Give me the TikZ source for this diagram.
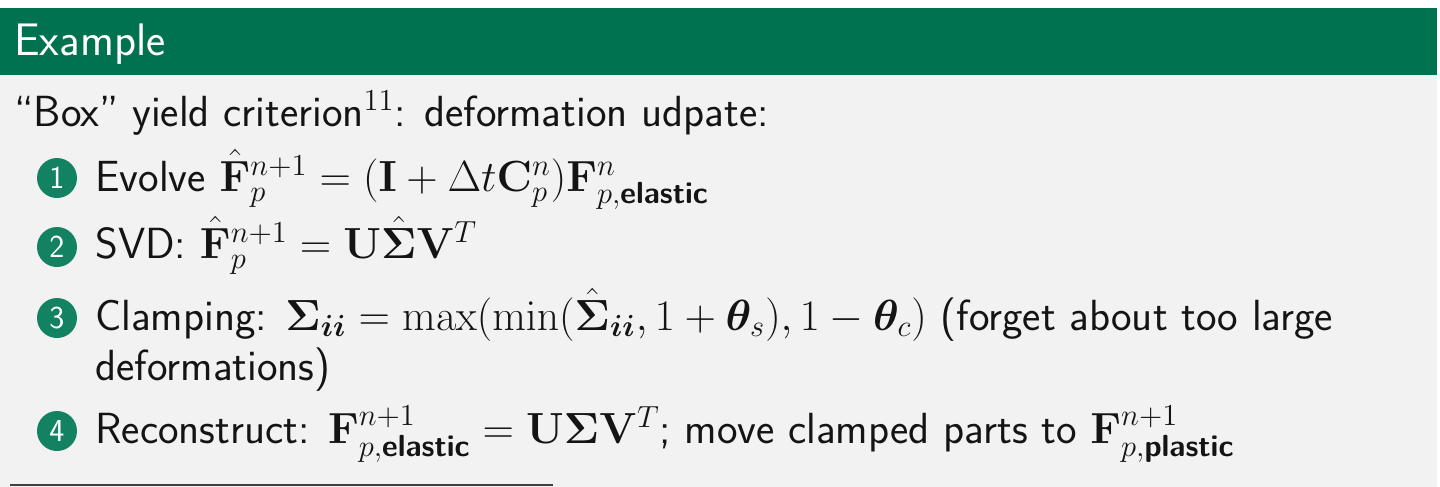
\RequirePackage{fix-cm}
\documentclass[tikz,border=0pt]{standalone}
\usepackage{amsmath,amssymb,bm}
\definecolor{hdr}{RGB}{0,114,80}
\definecolor{ballc}{RGB}{18,130,98}
\definecolor{slidebg}{RGB}{242,242,242}
\definecolor{txt}{RGB}{20,20,20}
\newcommand{\bsf}[1]{\textbf{\textsf{#1}}}
\newcommand{\mm}[1]{{\fontsize{21.8}{26}\selectfont$#1$}}
\tikzset{
  line/.style={anchor=base west, inner sep=0pt, text=txt, font=\fontsize{21.8}{26}\selectfont\sffamily},
  ttl/.style={anchor=base west, inner sep=0pt, text=white, font=\fontsize{22.8}{27}\selectfont\sffamily},
  ball/.style={circle, fill=ballc, text=white, minimum size=20pt, inner sep=0pt, font=\fontsize{16}{18}\selectfont\sffamily}
}
\begin{document}
\begin{tikzpicture}[x=0.5pt,y=-0.5pt]
\useasboundingbox (0,0) rectangle (1440,487);
\fill[white] (0,0) rectangle (1440,487);
\fill[slidebg] (0,75) rectangle (1437,487);
\fill[hdr] (0,8) rectangle (1437,75);
\node[ttl] (title) at (14,55) {Example};
\node[line] (l0) at (14,126) {``Box'' yield criterion\mm{^{11}}: deformation udpate:};
\node[ball] (b1) at (57,178) {1};
\node[line] (l1) at (95,191) {Evolve \mm{\hat{\mathbf{F}}_p^{n+1}=(\mathbf{I}+\Delta t\mathbf{C}_p^n)\mathbf{F}^n_{p,\bsf{elastic}}}};
\node[ball] (b2) at (57,247) {2};
\node[line] (l2) at (95,258) {SVD: \mm{\hat{\mathbf{F}}_p^{n+1}=\mathbf{U}\hat{\bm{\Sigma}}\mathbf{V}^T}};
\node[ball] (b3) at (57,318) {3};
\node[line] (l3) at (95,330) {Clamping: \mm{\bm{\Sigma}_{\bm{ii}}=\max(\min(\hat{\bm{\Sigma}}_{\bm{ii}},1+\bm{\theta}_s),1-\bm{\theta}_c)} (forget about too large};
\node[line] (l3b) at (95,380) {deformations)};
\node[ball] (b4) at (57,431) {4};
\node[line] (l4) at (95,443) {Reconstruct: \mm{\mathbf{F}^{n+1}_{p,\bsf{elastic}}=\mathbf{U}\bm{\Sigma}\mathbf{V}^T}; move clamped parts to \mm{\mathbf{F}^{n+1}_{p,\bsf{plastic}}}};
\coordinate (r1) at (10,485);
\coordinate (r2) at (553,485);
\draw[line width=1pt, black!75] (r1) -- (r2);
\end{tikzpicture}
\end{document}
